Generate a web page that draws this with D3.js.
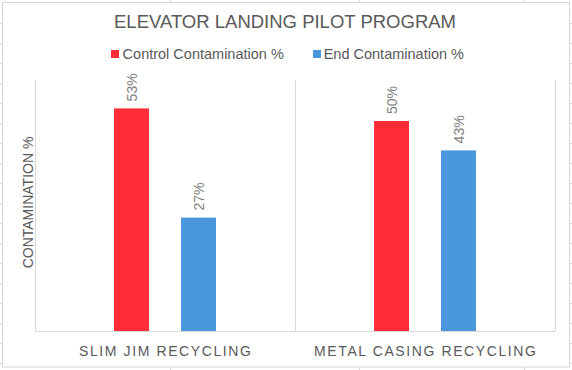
<!DOCTYPE html>
<html>
<head>
<meta charset="utf-8">
<script src="https://cdn.jsdelivr.net/npm/d3@7"></script>
<style>
  html, body { margin: 0; padding: 0; background: #fff; }
  svg { display: block; font-family: "Liberation Sans", Arial, sans-serif; }
</style>
</head>
<body>
<svg id="chart" width="572" height="370"></svg>
<script>
const categories = ["SLIM JIM RECYCLING", "METAL CASING RECYCLING"];
const seriesNames = ["Control Contamination %", "End Contamination %"];
const controlValues = [0.53, 0.50];
const endValues = [0.27, 0.43];
const seriesColors = ["#ff2d38", "#4a98db"];
const titleText = "ELEVATOR LANDING PILOT PROGRAM";
const yAxisTitle = "CONTAMINATION %";

const svg = d3.select("#chart");
const W = 572, H = 370;

// spreadsheet grid peeking out behind the chart object
const gridColor = "#d9d9d9";
const bg = svg.append("g");
d3.range(23, H, 20).forEach(y => {
  bg.append("line").attr("x1", 0).attr("x2", W).attr("y1", y + 0.5).attr("y2", y + 0.5)
    .attr("stroke", gridColor).attr("stroke-width", 1);
});
[170, 359, 524].forEach(x => {
  bg.append("line").attr("x1", x + 0.5).attr("x2", x + 0.5).attr("y1", 0).attr("y2", H)
    .attr("stroke", gridColor).attr("stroke-width", 1);
});

// chart object
svg.append("rect").attr("x", 2.5).attr("y", 2.5).attr("width", 567).attr("height", 364.5)
  .attr("fill", "#fff").attr("stroke", "#d6d6d6").attr("stroke-width", 1);

// title
svg.append("text").attr("x", 285).attr("y", 27.5).attr("text-anchor", "middle")
  .attr("font-size", 18.5).attr("fill", "#595959").text(titleText);

// legend
const legendPos = [{sq: 111, tx: 122.6}, {sq: 313, tx: 323.7}];
seriesNames.forEach((name, i) => {
  svg.append("rect").attr("x", legendPos[i].sq).attr("y", 50).attr("width", 8).attr("height", 8)
    .attr("fill", seriesColors[i]);
  svg.append("text").attr("x", legendPos[i].tx).attr("y", 59).attr("font-size", 14.5)
    .attr("fill", "#595959").text(name);
});

// scales
const plotLeft = 35, plotRight = 555, plotTop = 79, plotBottom = 331;
const x0 = d3.scaleBand().domain(categories).range([plotLeft, plotRight]).paddingInner(0).paddingOuter(0);
const x1 = d3.scaleBand().domain(seriesNames).range([0, x0.bandwidth()]).paddingInner(0.478).paddingOuter(1.18);
const y = d3.scaleLinear().domain([0, 0.6]).range([plotBottom, plotTop]);

// category separators
const sepXs = categories.map(c => x0(c)).concat([x0(categories[categories.length - 1]) + x0.bandwidth()]);
sepXs.forEach(x => {
  svg.append("line").attr("x1", Math.round(x) + 0.5).attr("x2", Math.round(x) + 0.5)
    .attr("y1", plotTop + 1).attr("y2", plotBottom)
    .attr("stroke", "#d9d9d9").attr("stroke-width", 1);
});

// bars
const rows = categories.map((c, i) => ({cat: c, vals: [controlValues[i], endValues[i]]}));
const groups = svg.selectAll("g.cat").data(rows).enter().append("g")
  .attr("class", "cat").attr("transform", d => `translate(${x0(d.cat)},0)`);

groups.selectAll("rect").data(d => d.vals.map((v, j) => ({s: seriesNames[j], v, j})))
  .enter().append("rect")
  .attr("x", d => x1(d.s)).attr("y", d => y(d.v))
  .attr("width", x1.bandwidth()).attr("height", d => y(0) - y(d.v))
  .attr("fill", d => seriesColors[d.j]);

groups.selectAll("text.lbl").data(d => d.vals.map((v, j) => ({s: seriesNames[j], v, j})))
  .enter().append("text").attr("class", "lbl")
  .attr("transform", d => `translate(${x1(d.s) + x1.bandwidth() / 2},${y(d.v) - 7}) rotate(-90)`)
  .attr("dy", "0.36em").attr("font-size", 14).attr("fill", "#7f7f7f")
  .text(d => d3.format(".0%")(d.v));

// x axis baseline
svg.append("line").attr("x1", plotLeft).attr("x2", plotRight + 1)
  .attr("y1", plotBottom + 0.5).attr("y2", plotBottom + 0.5)
  .attr("stroke", "#d9d9d9").attr("stroke-width", 1);

// category labels
svg.selectAll("text.cat").data(categories).enter().append("text").attr("class", "cat")
  .attr("x", d => x0(d) + x0.bandwidth() / 2 + 0.8).attr("y", 356)
  .attr("text-anchor", "middle").attr("font-size", 14).attr("letter-spacing", 1.6)
  .attr("fill", "#595959").text(d => d);

// y axis title
svg.append("text").attr("transform", "translate(33,202.5) rotate(-90)")
  .attr("text-anchor", "middle").attr("font-size", 14).attr("fill", "#595959").text(yAxisTitle);
</script>
</body>
</html>
